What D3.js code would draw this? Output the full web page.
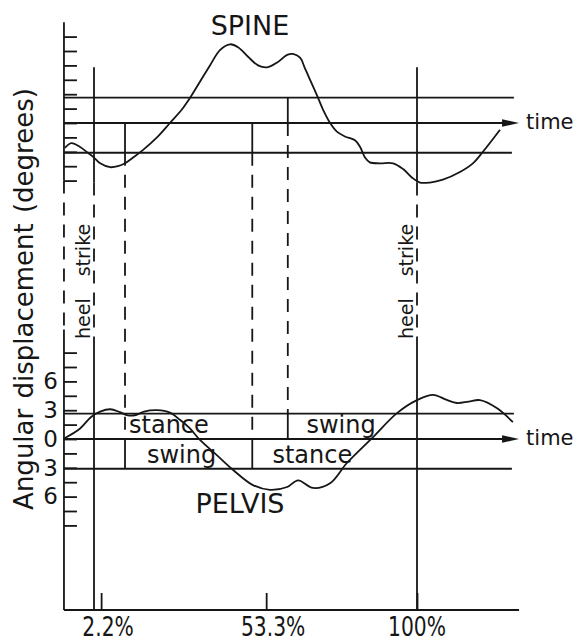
<!DOCTYPE html>
<html>
<head>
<meta charset="utf-8">
<script src="https://cdn.jsdelivr.net/npm/d3@7"></script>
<style>
  html, body { margin: 0; padding: 0; background: #fff; }
  svg { display: block; font-family: "DejaVu Sans", sans-serif; }
</style>
</head>
<body>
<svg id="chart" width="577" height="641"></svg>
<script>
// Gait cycle position (% of cycle) and angular displacement (degrees)
const spinePct = [-9.0, -7.0, -4.3, -1.9, 0.0, 1.9, 5.0, 7.4, 9.6, 12.1, 15.2, 19.5, 23.5, 27.2, 29.7,
  32.8, 35.9, 39.0, 42.1, 44.6, 47.7, 50.8, 53.6, 56.7, 59.8, 61.6, 63.8, 65.3, 66.9, 69.0, 70.9,
  73.1, 75.2, 77.7, 80.8, 82.4, 83.9, 85.4, 88.5, 92.6, 95.7, 98.5, 100.9, 104.0, 108.0, 113.3,
  117.3, 120.4, 125.7];
const spineDeg = [-2.6, -2.1, -2.5, -3.1, -3.6, -4.2, -4.6, -4.5, -4.2, -3.6, -2.8, -1.5, 0.0, 1.4, 2.6,
  4.3, 6.0, 7.6, 8.2, 7.9, 6.9, 6.0, 5.8, 6.3, 7.1, 7.2, 6.8, 5.7, 4.5, 2.9, 1.4,
  0.0, -0.9, -1.4, -1.8, -2.5, -3.6, -4.1, -4.2, -4.2, -4.8, -5.7, -6.2, -6.2, -5.9, -5.1,
  -4.2, -3.0, -0.7];

const pelvisPct = [-9.0, -4.3, -0.9, 1.9, 5.0, 8.0, 10.5, 13.0, 15.5, 19.5, 23.5, 26.6, 29.7, 32.8,
  38.1, 43.0, 49.2, 54.5, 59.8, 63.2, 67.8, 73.1, 78.3, 86.4, 93.8, 100.0, 105.0, 109.0, 112.4,
  116.0, 119.5, 124.8, 129.7];
const pelvisDeg = [0.1, 1.1, 2.3, 2.85, 3.1, 2.8, 2.45, 2.5, 2.85, 3.0, 2.75, 2.0, 1.1, -0.1,
  -1.7, -3.2, -4.8, -5.3, -5.0, -4.3, -5.1, -4.6, -2.5, 0.2, 2.7, 4.05, 4.6, 4.1, 3.75,
  3.9, 4.05, 3.2, 1.75];

// Gait events (% of cycle)
const heelStrikes = [0, 100];
const lowerBandEvents = [9.6, 49];   // opposite toe-off, opposite heel strike
const upperBandEvents = [60];        // toe-off
// Reference band limits (degrees)
const bandLimits = [2.65, -3.1];

// Tick values and labels
const spineTicks = d3.range(-6, 9.01, 1.5);
const pelvisTicks = d3.range(-9, 9.01, 1.5);
const pelvisTickLabels = [6, 3, 0, -3, -6];
const cycleTicks = [2.2, 53.3, 100];
const upperPhases = ["stance", "swing"];
const lowerPhases = ["swing", "stance"];

// ---------------------------------------------------------------- layout
const ink = "#161616";
const lw = 1.8;
const svg = d3.select("#chart");

const x = d3.scaleLinear().domain([0, 100]).range([94, 417]);
const ySpine = d3.scaleLinear().domain([0, 10]).range([123, 27]);
const yPelvis = d3.scaleLinear().domain([0, 10]).range([439, 343]);
const baseY = 610;
const xLeft = x(-9.3), xLineEnd = x(130), xArrow = x(131.6), xAxisEnd = x(131.6);
const labelGapY = 339;          // where the heel-strike captions start
const phaseLabelAt = { upper: [23.2, 76.5], lower: [27.1, 67.6] };

function seg(x1, y1, x2, y2, dashed) {
  svg.append("line")
    .attr("x1", x1).attr("y1", y1).attr("x2", x2).attr("y2", y2)
    .attr("stroke", ink).attr("stroke-width", lw)
    .attr("stroke-dasharray", dashed ? "13,9" : null);
}

// vertical axes with inward ticks
function yAxis(scale, ticks) {
  svg.append("g")
    .attr("transform", `translate(${xLeft},0)`)
    .attr("color", ink)
    .call(d3.axisRight(scale).tickValues(ticks).tickSize(13).tickFormat(""))
    .call(g => g.select(".domain").remove())
    .call(g => g.selectAll("line").attr("stroke-width", lw));
}
yAxis(ySpine, spineTicks);
yAxis(yPelvis, pelvisTicks);
seg(xLeft, ySpine(10.5), xLeft, ySpine(-6), false);
seg(xLeft, ySpine(-6), xLeft, yPelvis(11.4), true);
seg(xLeft, yPelvis(11.4), xLeft, baseY, false);

// bottom (cycle) axis
svg.append("g")
  .attr("transform", `translate(0,${baseY})`)
  .attr("color", ink)
  .call(d3.axisBottom(x).tickValues(cycleTicks).tickSize(-17).tickFormat(""))
  .call(g => g.select(".domain").remove())
  .call(g => g.selectAll("line").attr("stroke-width", lw));
seg(xLeft, baseY, xAxisEnd, baseY, false);
svg.append("g").selectAll("text").data(cycleTicks).join("text")
  .attr("transform", d => `translate(${x(d) + (d < 100 ? 7 : 0)},636) scale(0.78,1)`)
  .attr("text-anchor", "middle")
  .attr("font-size", 26)
  .attr("fill", ink)
  .text(d => d + "%");

// reference bands with time arrows
function bands(y) {
  seg(xLeft, y(bandLimits[0]), xLineEnd, y(bandLimits[0]), false);
  seg(xLeft, y(0), xArrow - 10, y(0), false);
  seg(xLeft, y(bandLimits[1]), xLineEnd - 2, y(bandLimits[1]), false);
  svg.append("path")
    .attr("d", `M${xArrow - 17},${y(0) - 3.8}L${xArrow},${y(0)}L${xArrow - 17},${y(0) + 3.8}Z`)
    .attr("fill", ink);
  svg.append("text")
    .attr("x", xArrow + 7).attr("y", y(0) + 6)
    .attr("font-size", 21).attr("fill", ink)
    .text("time");
}
bands(ySpine);
bands(yPelvis);

// heel strikes
heelStrikes.forEach(h => {
  const hx = x(h);
  seg(hx, ySpine(5.8), hx, ySpine(-6.2), false);
  seg(hx, ySpine(-6.2), hx, labelGapY, true);
  seg(hx, labelGapY, hx, baseY, false);
  const t = svg.append("text")
    .attr("transform", `translate(${hx - 4},${labelGapY}) rotate(-90)`)
    .attr("font-size", 19).attr("fill", ink);
  t.append("tspan").text("heel");
  t.append("tspan").attr("dx", 22).text("strike");
});

// other gait events linking the two panels
lowerBandEvents.forEach(e => {
  const ex = x(e);
  seg(ex, ySpine(0), ex, ySpine(bandLimits[1]), false);
  seg(ex, ySpine(bandLimits[1]), ex, yPelvis(0), true);
  seg(ex, yPelvis(0), ex, yPelvis(bandLimits[1]), false);
});
upperBandEvents.forEach(e => {
  const ex = x(e);
  seg(ex, ySpine(bandLimits[0]), ex, ySpine(0), false);
  seg(ex, ySpine(0), ex, yPelvis(bandLimits[0]), true);
  seg(ex, yPelvis(bandLimits[0]), ex, yPelvis(0), false);
});

// stance / swing captions in the pelvis bands
upperPhases.forEach((p, i) => {
  svg.append("text").attr("x", x(phaseLabelAt.upper[i])).attr("y", yPelvis(0) - 6)
    .attr("text-anchor", "middle").attr("font-size", 24).attr("fill", ink).text(p);
});
lowerPhases.forEach((p, i) => {
  svg.append("text").attr("x", x(phaseLabelAt.lower[i])).attr("y", yPelvis(bandLimits[1]) - 6)
    .attr("text-anchor", "middle").attr("font-size", 24).attr("fill", ink).text(p);
});

// pelvis degree labels
svg.append("g")
  .attr("transform", `translate(${xLeft - 6},0)`)
  .call(d3.axisLeft(yPelvis).tickValues(pelvisTickLabels).tickSize(0).tickPadding(0)
    .tickFormat(d => Math.abs(d)))
  .call(g => g.select(".domain").remove())
  .call(g => g.selectAll("text").attr("font-size", 23).attr("font-family", "DejaVu Sans")
    .attr("fill", ink));

// curves
const curve = d3.line().curve(d3.curveCatmullRom.alpha(0.5));
svg.append("path")
  .attr("d", curve(spinePct.map((p, i) => [x(p), ySpine(spineDeg[i])])))
  .attr("fill", "none").attr("stroke", ink).attr("stroke-width", lw);
svg.append("path")
  .attr("d", curve(pelvisPct.map((p, i) => [x(p), yPelvis(pelvisDeg[i])])))
  .attr("fill", "none").attr("stroke", ink).attr("stroke-width", lw);

// titles
svg.append("text").attr("x", 250).attr("y", 35).attr("text-anchor", "middle")
  .attr("font-size", 27).attr("fill", ink).text("SPINE");
svg.append("text").attr("x", 240).attr("y", 513).attr("text-anchor", "middle")
  .attr("font-size", 27).attr("fill", ink).text("PELVIS");
svg.append("text")
  .attr("transform", "translate(33,299) rotate(-90)")
  .attr("text-anchor", "middle").attr("font-size", 26).attr("fill", ink)
  .style("word-spacing", "2px")
  .text("Angular displacement (degrees)");
</script>
</body>
</html>
